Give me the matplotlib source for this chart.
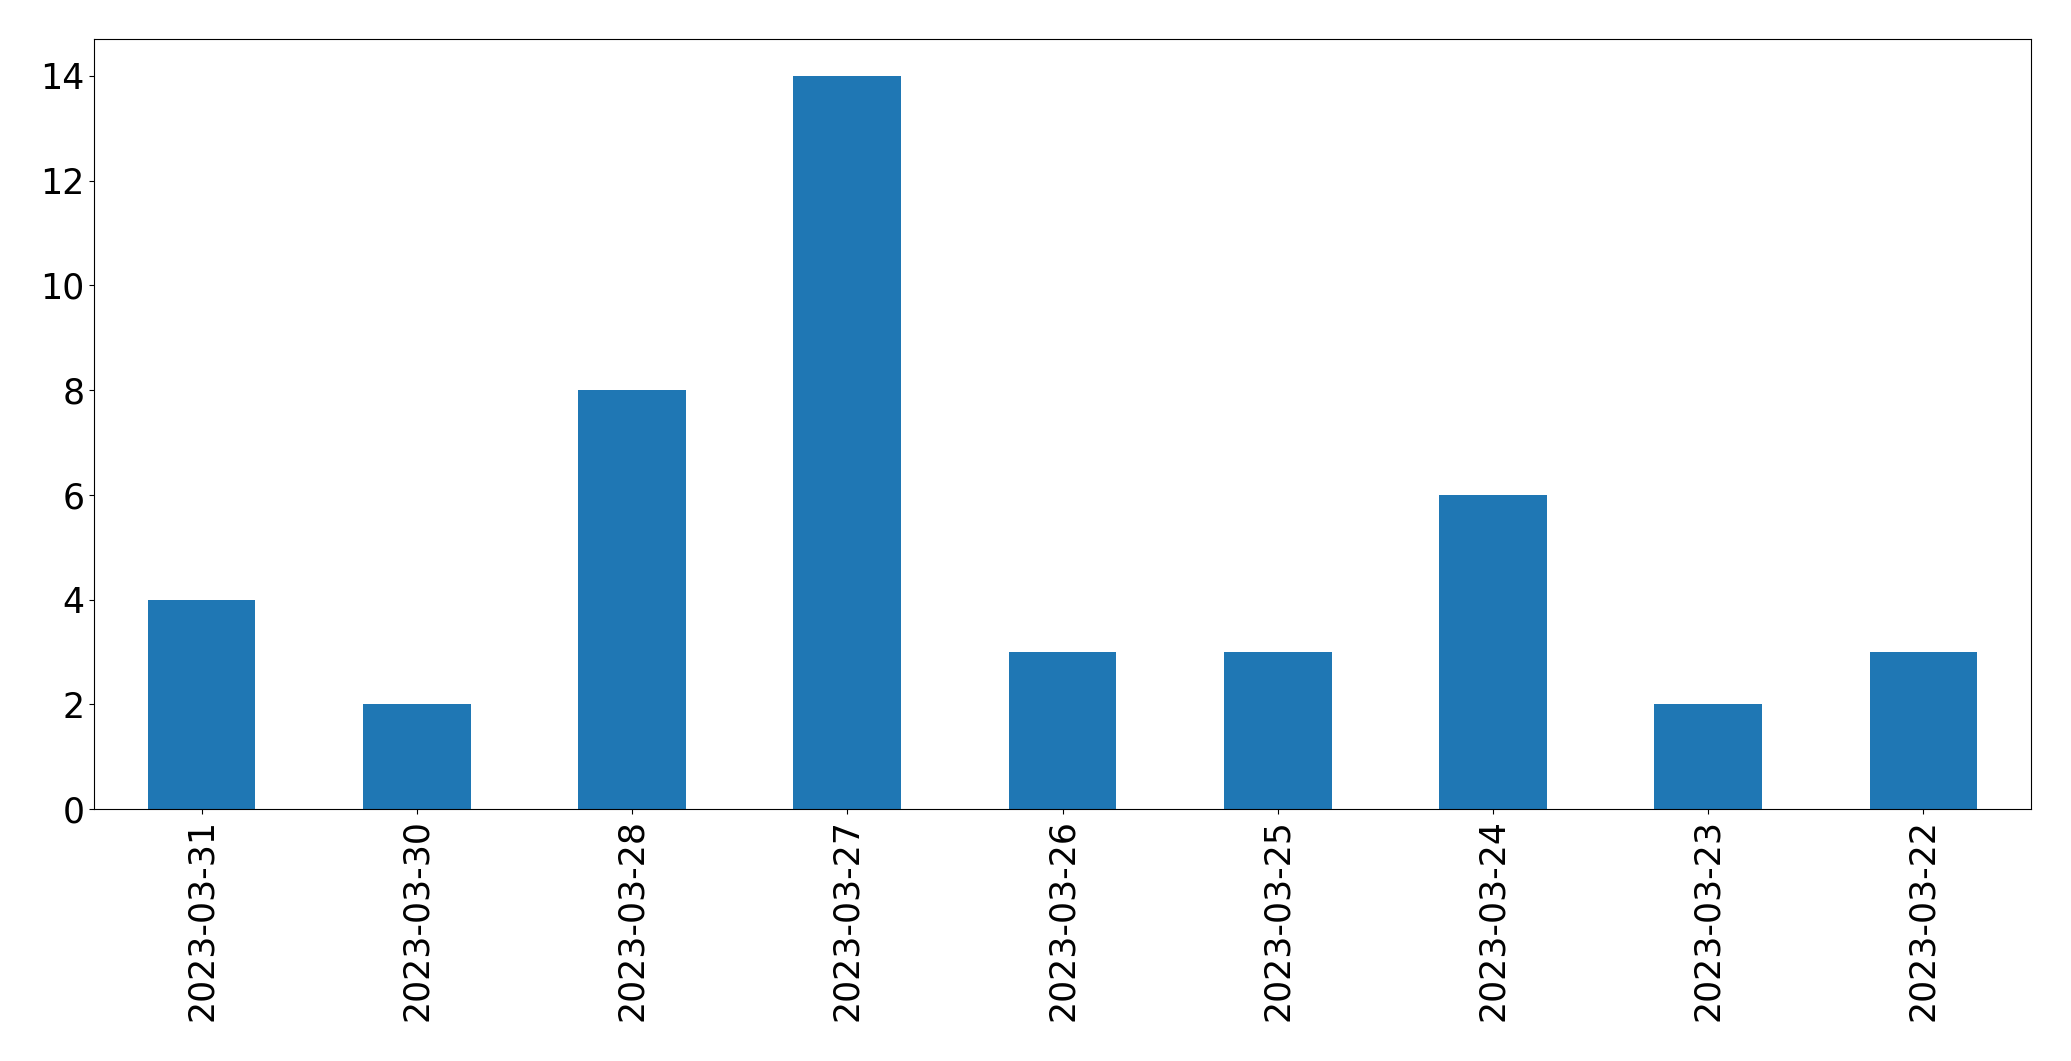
import matplotlib
matplotlib.use("Agg")
import matplotlib.pyplot as plt
import pandas as pd

dates = ["2023-03-31", "2023-03-30", "2023-03-28", "2023-03-27", "2023-03-26",
         "2023-03-25", "2023-03-24", "2023-03-23", "2023-03-22"]
counts = [4, 2, 8, 14, 3, 3, 6, 2, 3]

s = pd.Series(counts, index=dates)

fig, ax = plt.subplots(figsize=(20.71, 10.61), dpi=100)
s.plot(kind="bar", ax=ax, color="#1f77b4", fontsize=25)
ax.set_yticks(range(0, 15, 2))
plt.subplots_adjust(left=0.0454, right=0.9807, top=0.963, bottom=0.2375)
fig.savefig("out.png", dpi=100)
